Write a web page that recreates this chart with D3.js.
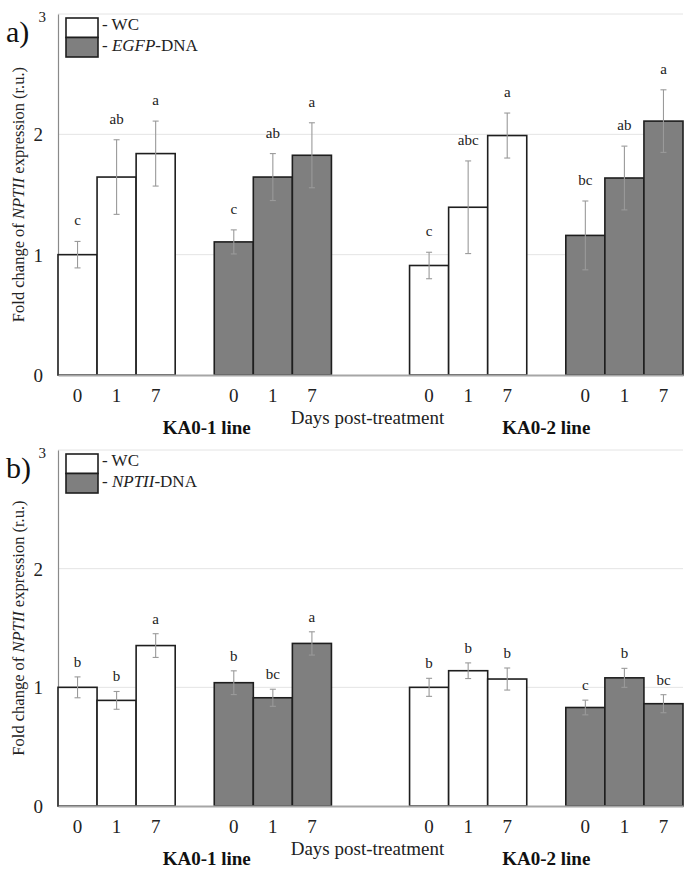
<!DOCTYPE html>
<html>
<head>
<meta charset="utf-8">
<script src="https://cdn.jsdelivr.net/npm/d3@7"></script>
<style>
  html, body { margin: 0; padding: 0; background: #fff; }
  svg { display: block; }
</style>
</head>
<body>
<script>
// ---------------- DATA ----------------
const days = ["0", "1", "7"];
const lines = ["KA0-1 line", "KA0-2 line"];
const treatments = ["WC", "DNA"];
const yTicks = [0, 1, 2, 3];
const panelLetters = ["a)", "b)"];
const dnaNames = ["EGFP", "NPTII"];
const xTitle = "Days post-treatment";

// Panel a) EGFP-DNA
const aWC_KA01 = [1.00, 1.645, 1.84];
const aWC_KA01_err = [0.11, 0.31, 0.27];
const aWC_KA01_sig = ["c", "ab", "a"];
const aDNA_KA01 = [1.106, 1.645, 1.826];
const aDNA_KA01_err = [0.10, 0.195, 0.27];
const aDNA_KA01_sig = ["c", "ab", "a"];
const aWC_KA02 = [0.91, 1.394, 1.99];
const aWC_KA02_err = [0.11, 0.385, 0.187];
const aWC_KA02_sig = ["c", "abc", "a"];
const aDNA_KA02 = [1.16, 1.637, 2.11];
const aDNA_KA02_err = [0.286, 0.265, 0.26];
const aDNA_KA02_sig = ["bc", "ab", "a"];

// Panel b) NPTII-DNA
const bWC_KA01 = [1.00, 0.89, 1.352];
const bWC_KA01_err = [0.088, 0.075, 0.10];
const bWC_KA01_sig = ["b", "b", "a"];
const bDNA_KA01 = [1.039, 0.912, 1.37];
const bDNA_KA01_err = [0.10, 0.072, 0.098];
const bDNA_KA01_sig = ["b", "bc", "a"];
const bWC_KA02 = [1.00, 1.14, 1.07];
const bWC_KA02_err = [0.076, 0.066, 0.093];
const bWC_KA02_sig = ["b", "b", "b"];
const bDNA_KA02 = [0.83, 1.08, 0.862];
const bDNA_KA02_err = [0.062, 0.08, 0.076];
const bDNA_KA02_sig = ["c", "b", "bc"];

const panelsData = [
  [[[aWC_KA01, aWC_KA01_err, aWC_KA01_sig], [aDNA_KA01, aDNA_KA01_err, aDNA_KA01_sig]],
   [[aWC_KA02, aWC_KA02_err, aWC_KA02_sig], [aDNA_KA02, aDNA_KA02_err, aDNA_KA02_sig]]],
  [[[bWC_KA01, bWC_KA01_err, bWC_KA01_sig], [bDNA_KA01, bDNA_KA01_err, bDNA_KA01_sig]],
   [[bWC_KA02, bWC_KA02_err, bWC_KA02_sig], [bDNA_KA02, bDNA_KA02_err, bDNA_KA02_sig]]]
];

// ---------------- LAYOUT / STYLE ----------------
const W = 690, H = 870;
const FONT = "'Liberation Serif', 'Times New Roman', serif";
const fills = ["#ffffff", "#7f7f7f"];
const panels = [{ top: 14, bottom: 375, sigOffset: 16 }, { top: 450, bottom: 806, sigOffset: 10 }];
const plotLeft = 58, plotRight = 683;
const lineLabelShift = [12, 0];

// slot keys: 3 bars + gap per treatment, extra gap between lines
const slots = [];
lines.forEach((l, li) => {
  treatments.forEach((t, ti) => {
    days.forEach(d => slots.push(`${li}|${ti}|${d}`));
    if (!(li === lines.length - 1 && ti === treatments.length - 1)) slots.push(`gap${li}${ti}`);
  });
  if (li < lines.length - 1) slots.push(`gapL${li}`);
});
const barSlots = slots.filter(s => !s.startsWith("gap"));

const x = d3.scaleBand().domain(slots).range([plotLeft, plotRight]).paddingInner(0).paddingOuter(0);

const svg = d3.select("body").append("svg").attr("width", W).attr("height", H)
  .style("font-family", FONT);
svg.append("rect").attr("width", W).attr("height", H).attr("fill", "#fff");

panels.forEach((p, pi) => {
  const y = d3.scaleLinear().domain([0, 3]).range([p.bottom, p.top]);
  const g = svg.append("g");

  // gridlines
  g.selectAll(".grid").data(yTicks.filter(t => t > 0)).enter().append("line")
    .attr("x1", plotLeft).attr("x2", plotRight)
    .attr("y1", d => y(d)).attr("y2", d => y(d))
    .attr("stroke", "#e4e4e4").attr("stroke-width", 1);

  // y axis
  const ya = g.append("g").attr("transform", `translate(${plotLeft},0)`)
    .call(d3.axisLeft(y).tickValues(yTicks).tickFormat(d3.format("d")).tickSize(0).tickPadding(15));
  ya.select(".domain").attr("stroke", "#8a8a8a").attr("stroke-width", 1.2);
  ya.selectAll("text").attr("font-family", FONT).attr("font-size", d => d === 3 ? 15 : 19)
    .attr("fill", "#222").attr("dx", d => d === 3 ? 3 : 0).attr("dy", d => d === 3 ? "0.5em" : "0.34em");

  // bars
  const rows = [];
  lines.forEach((l, li) => treatments.forEach((t, ti) => days.forEach((d, di) => {
    const s = panelsData[pi][li][ti];
    rows.push({ key: `${li}|${ti}|${d}`, ti, v: s[0][di], e: s[1][di], sig: s[2][di] });
  })));

  g.selectAll(".bar").data(rows).enter().append("rect")
    .attr("x", d => x(d.key)).attr("width", x.bandwidth())
    .attr("y", d => y(d.v)).attr("height", d => y(0) - y(d.v))
    .attr("fill", d => fills[d.ti]).attr("stroke", "#1e1e1e").attr("stroke-width", 1.6);

  // error bars
  const eb = g.selectAll(".err").data(rows).enter().append("g")
    .attr("stroke", "#9a9a9a").attr("stroke-width", 1.1);
  eb.append("line").attr("x1", d => x(d.key) + x.bandwidth() / 2).attr("x2", d => x(d.key) + x.bandwidth() / 2)
    .attr("y1", d => y(d.v + d.e)).attr("y2", d => y(d.v - d.e));
  [1, -1].forEach(sgn => {
    eb.append("line").attr("x1", d => x(d.key) + x.bandwidth() / 2 - 3).attr("x2", d => x(d.key) + x.bandwidth() / 2 + 3)
      .attr("y1", d => y(d.v + sgn * d.e)).attr("y2", d => y(d.v + sgn * d.e));
  });

  // significance letters
  g.selectAll(".sig").data(rows).enter().append("text")
    .attr("x", d => x(d.key) + x.bandwidth() / 2)
    .attr("y", d => y(d.v + d.e) - p.sigOffset)
    .attr("text-anchor", "middle").attr("font-size", 15).attr("fill", "#222")
    .text(d => d.sig);

  // x axis
  const xa = g.append("g").attr("transform", `translate(0,${p.bottom})`)
    .call(d3.axisBottom(x).tickValues(barSlots).tickFormat(k => k.split("|")[2]).tickSize(0).tickPadding(13.5));
  xa.select(".domain").attr("stroke", "#a6a6a6").attr("stroke-width", 2);
  xa.selectAll("text").attr("font-family", FONT).attr("font-size", 19).attr("fill", "#222");

  // x title
  g.append("text").attr("x", (plotLeft + plotRight) / 2 - 3).attr("y", p.bottom + 48.5)
    .attr("text-anchor", "middle").attr("font-size", 19).attr("fill", "#222").text(xTitle);

  // line labels
  lines.forEach((l, li) => {
    const first = x(`${li}|0|${days[0]}`);
    const last = x(`${li}|${treatments.length - 1}|${days[days.length - 1]}`) + x.bandwidth();
    g.append("text").attr("x", (first + last) / 2 + lineLabelShift[li]).attr("y", p.bottom + 59)
      .attr("text-anchor", "middle").attr("font-size", 19).attr("font-weight", "bold").attr("fill", "#111")
      .text(l);
  });

  // y title
  const yt = g.append("text")
    .attr("transform", `translate(24,${(p.top + p.bottom) / 2}) rotate(-90)`)
    .attr("text-anchor", "middle").attr("font-size", 16.5).attr("fill", "#222");
  yt.append("tspan").text("Fold change of ");
  yt.append("tspan").attr("font-style", "italic").text("NPTII");
  yt.append("tspan").text(" expression (r.u.)");

  // panel letter
  g.append("text").attr("x", 6).attr("y", p.top + 28).attr("font-size", 30).attr("fill", "#111")
    .text(panelLetters[pi]);

  // legend
  const lx = 66, ly = p.top + 4, lw = 32, lh = 19.5;
  treatments.forEach((t, ti) => {
    g.append("rect").attr("x", lx).attr("y", ly + ti * lh).attr("width", lw).attr("height", lh)
      .attr("fill", fills[ti]).attr("stroke", "#1e1e1e").attr("stroke-width", 1.6);
  });
  const l1 = g.append("text").attr("x", lx + lw + 4).attr("y", p.top + 15.5).attr("font-size", 17).attr("fill", "#222");
  l1.text("- WC");
  const l2 = g.append("text").attr("x", lx + lw + 4).attr("y", p.top + 36.5).attr("font-size", 17).attr("fill", "#222");
  l2.append("tspan").text("- ");
  l2.append("tspan").attr("font-style", "italic").text(dnaNames[pi]);
  l2.append("tspan").text("-DNA");
});
</script>
</body>
</html>
